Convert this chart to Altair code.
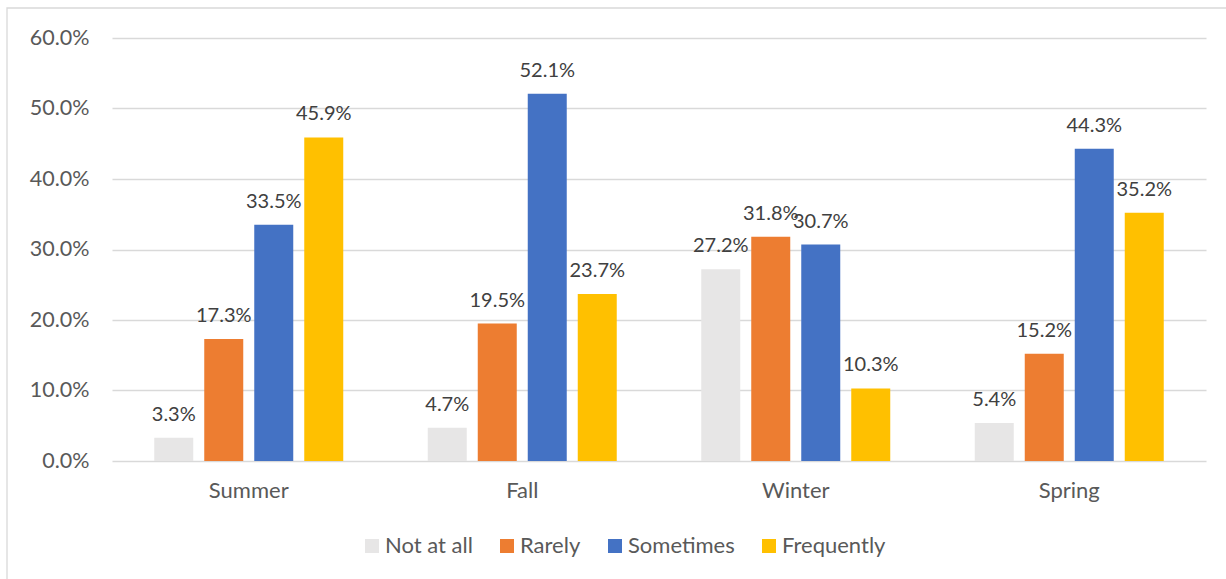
import altair as alt
import pandas as pd

seasons = ["Summer", "Fall", "Winter", "Spring"]
series = ["Not at all", "Rarely", "Sometimes", "Frequently"]
colors = ["#E7E6E6", "#ED7D31", "#4472C4", "#FFC000"]
not_at_all = [0.033, 0.047, 0.272, 0.054]
rarely = [0.173, 0.195, 0.318, 0.152]
sometimes = [0.335, 0.521, 0.307, 0.443]
frequently = [0.459, 0.237, 0.103, 0.352]

rows = []
for name, vals in zip(series, [not_at_all, rarely, sometimes, frequently]):
    for s, v in zip(seasons, vals):
        rows.append({"season": s, "series": name, "value": v})
df = pd.DataFrame(rows)

FONT = "Lato"

base = alt.Chart(df).encode(
    x=alt.X("season:N", sort=seasons, title=None,
            scale=alt.Scale(paddingInner=0, paddingOuter=0),
            axis=alt.Axis(labelAngle=0, domain=False, ticks=False, tickSize=0,
                          labelPadding=19, labelFontSize=22, labelColor="#595959",
                          labelFont=FONT, grid=False)),
    xOffset=alt.XOffset("series:N", sort=series,
                        scale=alt.Scale(paddingInner=0.22, paddingOuter=0.845)),
)

bars = base.mark_bar().encode(
    y=alt.Y("value:Q", title=None,
            scale=alt.Scale(domain=[0, 0.6], nice=False),
            axis=alt.Axis(format=".1%", values=[0, 0.1, 0.2, 0.3, 0.4, 0.5, 0.6],
                          domain=False, ticks=False, tickSize=0, labelPadding=23,
                          labelFontSize=21.5, labelColor="#595959", labelFont=FONT,
                          gridColor="#D9D9D9", gridWidth=1.4)),
    color=alt.Color("series:N", sort=series,
                    scale=alt.Scale(domain=series, range=colors),
                    legend=alt.Legend(title=None, orient="none", direction="horizontal",
                                      legendX=249, legendY=497, padding=0,
                                      symbolType="square", symbolSize=196,
                                      symbolStrokeWidth=0, labelOffset=2,
                                      columnPadding=23, labelFontSize=22,
                                      labelColor="#595959", labelFont=FONT)),
)

labels = base.mark_text(baseline="alphabetic", dy=-17, fontSize=20,
                        color="#404040", font=FONT).encode(
    y=alt.Y("value:Q"),
    text=alt.Text("value:Q", format=".1%"),
)

frame = alt.Chart(pd.DataFrame({"a": [0]})).mark_rect(
    fillOpacity=0, stroke="#D9D9D9", strokeWidth=1.3
).encode(x=alt.value(-105), x2=alt.value(1130), y=alt.value(-30), y2=alt.value(560))

chart = alt.layer(frame, bars, labels).properties(
    width=1094, height=423,
    autosize=alt.AutoSizeParams(type="none"),
    padding={"left": 112, "top": 38, "right": 20, "bottom": 118},
    background="white",
).configure_view(stroke="transparent", strokeWidth=0)

chart.save("out.html", embed_options={"renderer": "svg", "actions": False})
